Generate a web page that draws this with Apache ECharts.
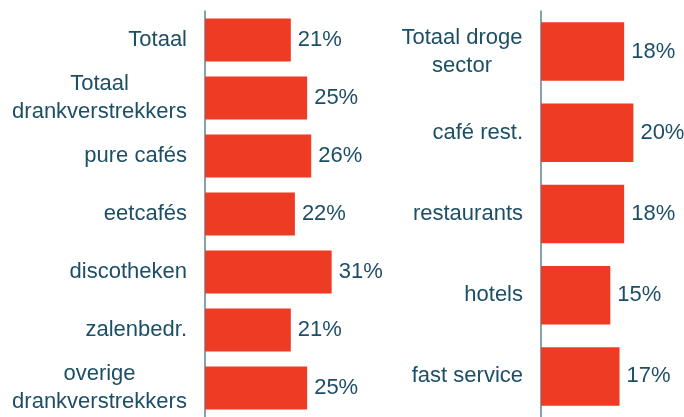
<!DOCTYPE html>
<html>
<head>
<meta charset="utf-8">
<script src="https://cdn.jsdelivr.net/npm/echarts@6/dist/echarts.min.js"></script>
<style>
  html, body { margin: 0; padding: 0; background: #fff; }
  #chart { width: 684px; height: 417px; }
</style>
</head>
<body>
<div id="chart"></div>
<script>
// data
const leftCats = ['Totaal', 'Totaal\ndrankverstrekkers', 'pure cafés', 'eetcafés', 'discotheken', 'zalenbedr.', 'overige\ndrankverstrekkers'];
const leftVals = [21, 25, 26, 22, 31, 21, 25];
const rightCats = ['Totaal droge\nsector', 'café rest.', 'restaurants', 'hotels', 'fast service'];
const rightVals = [18, 20, 18, 15, 17];

const FONT = 'Liberation Sans';
const SIZE = 22;
const textColor = '#1c4e66';
const axisColor = '#5b8499';
const barColor = '#ee3b24';

// width of the longest line, so two-line labels can be centred in one box
const ctx = document.createElement('canvas').getContext('2d');
ctx.font = SIZE + 'px "' + FONT + '"';
const maxLine = (cats) => {
  let w = 0;
  cats.forEach(c => {
    if (c.indexOf('\n') >= 0) {
      c.split('\n').forEach(l => { w = Math.max(w, ctx.measureText(l).width); });
    }
  });
  return Math.ceil(w);
};

const labelFmt = (v) => {
  if (v.indexOf('\n') < 0) return v;
  return v.split('\n').map(l => '{c|' + l + '}').join('\n');
};

const yAxisFor = (idx, cats) => ({
  type: 'category',
  gridIndex: idx,
  data: cats,
  inverse: true,
  axisLine: { show: true, lineStyle: { color: axisColor, width: 1.5 } },
  axisTick: { show: false },
  axisLabel: {
    margin: 18,
    color: textColor,
    fontFamily: FONT,
    fontSize: SIZE,
    formatter: labelFmt,
    rich: {
      c: { width: maxLine(cats), align: 'center', lineHeight: 28, color: textColor, fontFamily: FONT, fontSize: SIZE }
    }
  }
});

const barSeries = (idx, vals, gap) => ({
  type: 'bar',
  xAxisIndex: idx,
  yAxisIndex: idx,
  data: vals,
  barCategoryGap: gap,
  itemStyle: { color: barColor },
  label: {
    show: true,
    position: 'right',
    distance: 7,
    formatter: '{c}%',
    color: textColor,
    fontFamily: FONT,
    fontSize: SIZE
  }
});

let myChart = echarts.init(document.getElementById('chart'));
let option = {
  animation: false,
  grid: [
    { left: 205, top: 11, width: 143, height: 408 },
    { left: 541, top: 11, width: 138.6, height: 411 }
  ],
  xAxis: [
    { type: 'value', gridIndex: 0, min: 0, max: 35, show: false },
    { type: 'value', gridIndex: 1, min: 0, max: 30, show: false }
  ],
  yAxis: [yAxisFor(0, leftCats), yAxisFor(1, rightCats)],
  series: [barSeries(0, leftVals, '26%'), barSeries(1, rightVals, '28%')]
};
myChart.setOption(option);
</script>
</body>
</html>
